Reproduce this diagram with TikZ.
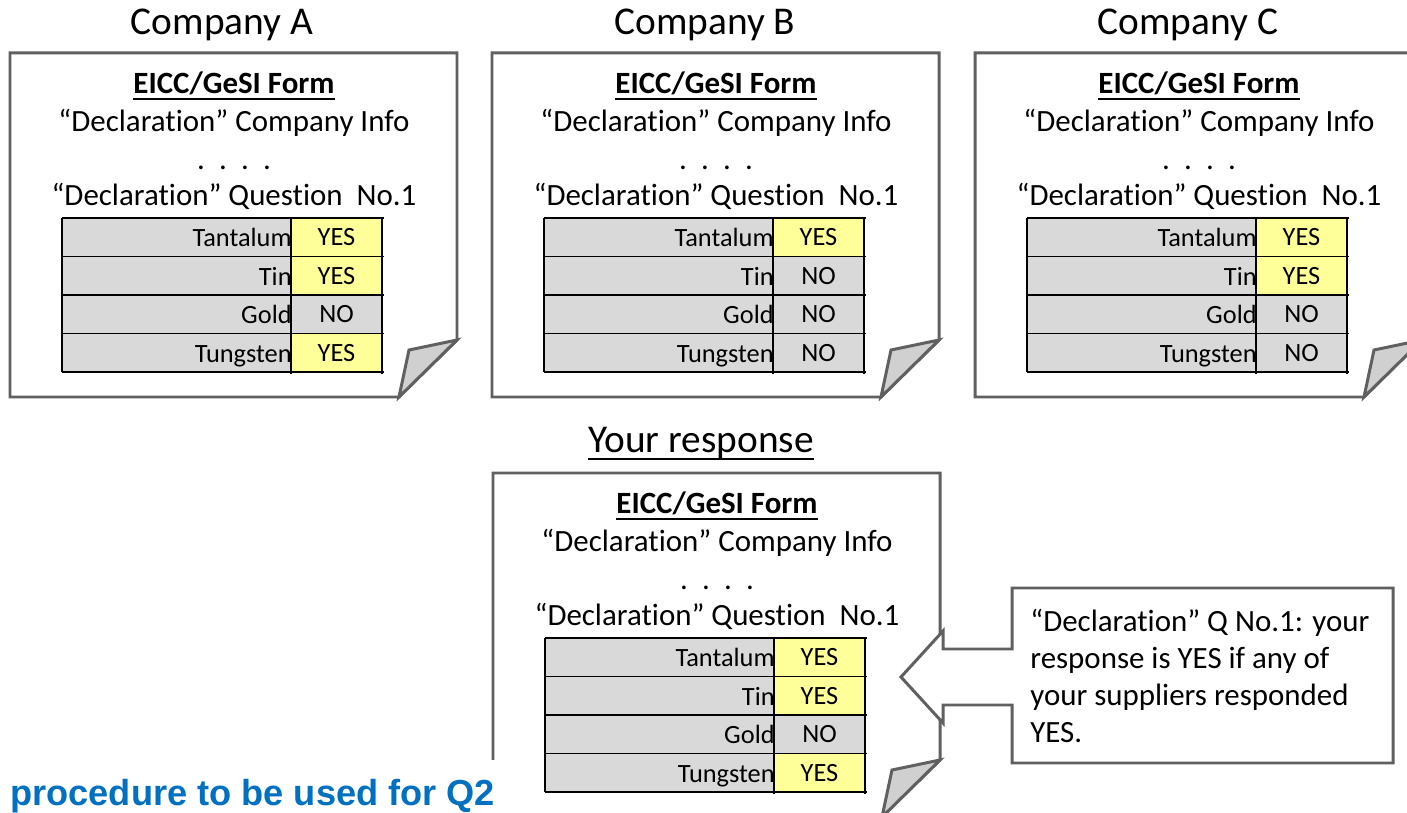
\documentclass[tikz,border=0pt]{standalone}
\usepackage{fontspec}
\setmainfont{Carlito}[Ligatures={NoCommon,NoContextual}]
\newfontfamily\arialfont{Liberation Sans}
\usetikzlibrary{calc}
\definecolor{cardgray}{HTML}{606060}
\definecolor{foldgray}{HTML}{D0D0D0}
\definecolor{cellgray}{HTML}{D9D9D9}
\definecolor{cellyellow}{HTML}{FFFF99}
\definecolor{procblue}{HTML}{0070C0}
\newcommand{\fsTitle}{\fontsize{22.4}{26}\selectfont}
\newcommand{\fsBody}{\fontsize{17.6}{21}\selectfont}
\newcommand{\fsTab}{\fontsize{15}{18}\selectfont}
\tikzset{
  cardline/.style={draw=cardgray, line width=1.7pt, line join=miter},
  foldpart/.style={cardline, fill=foldgray},
  heading/.style={inner sep=0pt, anchor=base, font=\fsTitle},
  formhead/.style={inner sep=0pt, anchor=base, font=\fsBody\bfseries},
  formline/.style={inner sep=0pt, anchor=base, font=\fsBody},
  tablab/.style={inner sep=0pt, anchor=base east, font=\fsTab},
  tabval/.style={inner sep=0pt, anchor=base, font=\fsTab},
  gridline/.style={draw=black, line width=0.85pt},
  uline/.style={draw=black, line width=0.9pt},
  calltext/.style={inner sep=0pt, anchor=base west, font=\fsBody},
}
% paper card with folded corner: #1 left, #2 top, #3 width
\newcommand{\papercard}[3]{%
  \draw[cardline, fill=white] (#1,#2) -- (#1+#3,#2) -- (#1+#3,#2+287) -- (#1+#3-58,#2+344) -- (#1,#2+344) -- cycle;
  \draw[foldpart] (#1+#3,#2+287) -- (#1+#3-48,#2+297) -- (#1+#3-58,#2+344) -- cycle;
}
% form contents: #1 name, #2 left, #3 top, #4 rows list
\newcommand{\formcontent}[4]{%
  \node[formhead] (#1-form) at (#2+224,#3+41) {EICC/GeSI Form};
  \draw[uline] ($(#1-form.base west)+(0,5)$) -- ($(#1-form.base east)+(0,5)$);
  \node[formline] (#1-info) at (#2+224,#3+79) {“Declaration” Company Info};
  \node[formline] (#1-dots) at (#2+224,#3+117) {.\hspace{0.46em}.\hspace{0.46em}.\hspace{0.46em}.};
  \node[formline] (#1-quest) at (#2+224,#3+153) {“Declaration” Question\ \ No.1};
  \fill[cellgray] (#2+52,#3+165) rectangle (#2+372,#3+319);
  \foreach \lab/\val/\col [count=\i from 0] in {#4} {
    \fill[\col] (#2+281,#3+165+38.5*\i) rectangle (#2+372,#3+203.5+38.5*\i);
    \node[tablab] (#1-lab\i) at (#2+282,#3+194+38.5*\i) {\lab};
    \node[tabval] (#1-val\i) at (#2+326.5,#3+193+38.5*\i) {\val};
  }
  \foreach \i in {0,...,4} {
    \draw[gridline] (#2+52,#3+165+38.5*\i) -- (#2+374,#3+165+38.5*\i);
  }
  \draw[gridline] (#2+52,#3+165) -- (#2+52,#3+319);
  \draw[gridline] (#2+281,#3+165) -- (#2+281,#3+321);
  \draw[gridline] (#2+372,#3+165) -- (#2+372,#3+321);
}
\begin{document}
\begin{tikzpicture}[x=0.02cm,y=-0.02cm]
\useasboundingbox (0,0) rectangle (1407,813);
\clip (0,0) rectangle (1407,813);
\fill[white] (0,0) rectangle (1407,813);

% headings
\node[heading] (hA) at (222,35) {Company A};
\node[heading] (hB) at (705,35) {Company B};
\node[heading] (hC) at (1188,35) {Company C};

% supplier cards
\papercard{10}{53}{447}
\formcontent{A}{10}{53}{Tantalum/YES/cellyellow, Tin/YES/cellyellow, Gold/NO/cellgray, Tungsten/YES/cellyellow}
\papercard{492}{53}{447}
\formcontent{B}{492}{53}{Tantalum/YES/cellyellow, Tin/NO/cellgray, Gold/NO/cellgray, Tungsten/NO/cellgray}
\papercard{975}{53}{447}
\formcontent{C}{975}{53}{Tantalum/YES/cellyellow, Tin/YES/cellyellow, Gold/NO/cellgray, Tungsten/NO/cellgray}

% your response
\node[heading] (hD) at (701,453) {Your response};
\draw[uline, line width=1.1pt] ($(hD.base west)+(0,6)$) -- ($(hD.base east)+(0,6)$);
\fill[white] (493,473) -- (940,473) -- (940,760) -- (882,817) -- (493,817) -- cycle;
\draw[cardline] (493,760) -- (493,473) -- (940,473) -- (940,760) -- (882,817);
\draw[foldpart] (940,760) -- (892,770) -- (882,817) -- cycle;
\formcontent{D}{493}{473}{Tantalum/YES/cellyellow, Tin/YES/cellyellow, Gold/NO/cellgray, Tungsten/YES/cellyellow}

% callout with arrow
\draw[cardline, fill=white] (1012,588) -- (1393,588) -- (1393,763) -- (1012,763) -- (1012,705)
  -- (943,705) -- (943,723) -- (901,677) -- (943,631) -- (943,649) -- (1012,649) -- cycle;
\node[calltext] (c1) at (1030,632) {“Declaration” Q No.1: your};
\node[calltext] (c2) at (1030,669) {response is YES if any of};
\node[calltext] (c3) at (1030,706) {your suppliers responded};
\node[calltext] (c4) at (1030,743) {YES.};

% bottom note
\node[inner sep=0pt, anchor=base west, font=\arialfont\bfseries\fontsize{20.6}{24}\selectfont, text=procblue] (proc) at (10,806) {procedure to be used for Q2};
\end{tikzpicture}
\end{document}
